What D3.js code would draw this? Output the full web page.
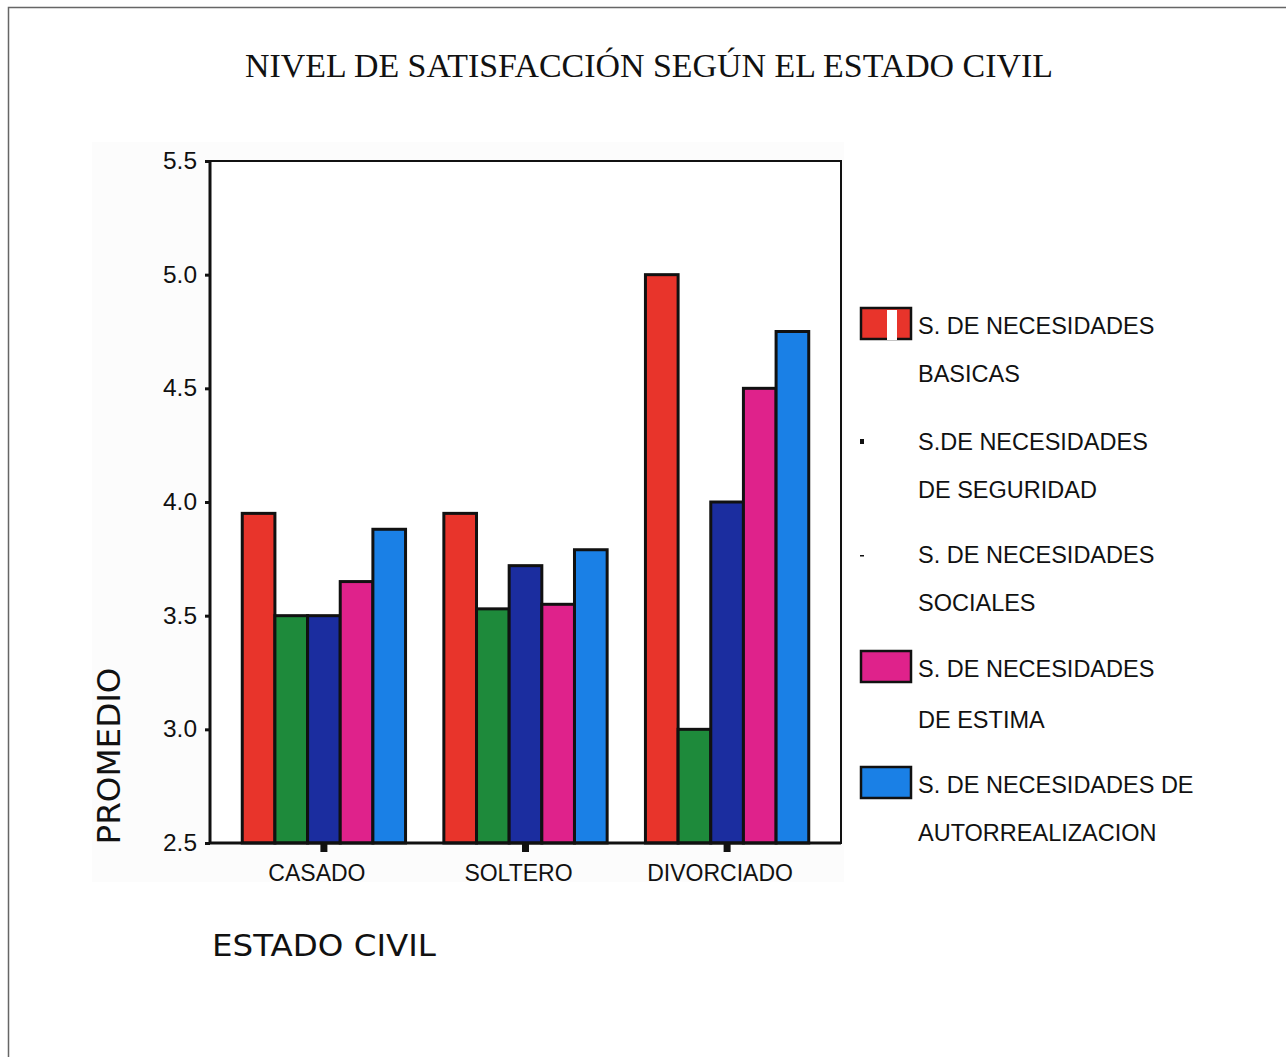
<!DOCTYPE html>
<html lang="es">
<head>
  <meta charset="UTF-8">
  <title>Nivel de satisfacción según el estado civil</title>
  <script src="https://d3js.org/d3.v7.min.js"></script>
  <style>
    body { margin: 0; background: #fff; }
    .axis path { display: none; }
    .axis text { font-family: "Liberation Sans", Arial, sans-serif; fill: #111; }
  </style>
</head>
<body>
  <div id="chart"></div>

  <script>
    // datos
    const categorias = ["CASADO", "SOLTERO", "DIVORCIADO"];
    const nBasicas   = [3.95, 3.95, 5.00];
    const nSeguridad = [3.50, 3.53, 3.00];
    const nSociales  = [3.50, 3.72, 4.00];
    const nEstima    = [3.65, 3.55, 4.50];
    const nAutorreal = [3.88, 3.79, 4.75];
    const yTicks = [2.5, 3.0, 3.5, 4.0, 4.5, 5.0, 5.5];
    const leyenda = [
      ["S. DE NECESIDADES", "BASICAS"],
      ["S.DE NECESIDADES", "DE SEGURIDAD"],
      ["S. DE NECESIDADES", "SOCIALES"],
      ["S. DE NECESIDADES", "DE ESTIMA"],
      ["S. DE NECESIDADES DE", "AUTORREALIZACION"]
    ];

    const series = [nBasicas, nSeguridad, nSociales, nEstima, nAutorreal];
    const colores = ["#e8342b", "#1e8a3b", "#1b2d9f", "#df228b", "#1a80e6"];

    const W = 1286, H = 1057;
    const plot = {left: 210, right: 841, top: 161, bottom: 843};

    const svg = d3.select("#chart").append("svg")
      .attr("width", W).attr("height", H);

    // borde de la hoja escaneada
    svg.append("path")
      .attr("d", `M8.5,${H} V7.5 H${W}`)
      .attr("fill", "none").attr("stroke", "#666").attr("stroke-width", 1.5);

    // fondo apenas gris del recorte
    svg.append("rect").attr("x", 92).attr("y", 142).attr("width", 752).attr("height", 740)
      .attr("fill", "#fcfcfc");
    svg.append("rect").attr("x", plot.left).attr("y", plot.top)
      .attr("width", plot.right - plot.left).attr("height", plot.bottom - plot.top)
      .attr("fill", "#fff");

    svg.append("text")
      .attr("x", 649).attr("y", 77)
      .attr("text-anchor", "middle")
      .attr("font-family", "'Liberation Serif', 'Times New Roman', serif")
      .attr("font-size", 33)
      .attr("textLength", 808).attr("lengthAdjust", "spacingAndGlyphs")
      .attr("fill", "#111")
      .text("NIVEL DE SATISFACCIÓN SEGÚN EL ESTADO CIVIL");

    const y = d3.scaleLinear().domain([2.5, 5.5]).range([plot.bottom, plot.top]);
    const x0 = d3.scaleBand().domain(categorias).range([plot.left, plot.right])
      .paddingInner(0.19).paddingOuter(0.16);
    const x1 = d3.scaleBand().domain(d3.range(series.length)).range([0, x0.bandwidth()]);

    const datos = categorias.map((c, i) => ({cat: c, vals: series.map((s, j) => ({k: j, v: s[i]}))}));

    svg.append("g").selectAll("g")
      .data(datos)
      .enter().append("g")
      .attr("transform", d => `translate(${x0(d.cat)},0)`)
      .selectAll("rect")
      .data(d => d.vals)
      .enter().append("rect")
      .attr("x", d => x1(d.k))
      .attr("y", d => y(d.v))
      .attr("width", x1.bandwidth())
      .attr("height", d => y(2.5) - y(d.v))
      .attr("fill", d => colores[d.k])
      .attr("stroke", "#111").attr("stroke-width", 3);

    // marco del gráfico
    svg.append("rect").attr("x", plot.left).attr("y", plot.top)
      .attr("width", plot.right - plot.left).attr("height", plot.bottom - plot.top)
      .attr("fill", "none").attr("stroke", "#111").attr("stroke-width", 2);
    svg.append("path")
      .attr("d", `M${plot.left},${plot.top} V${plot.bottom} H${plot.right}`)
      .attr("fill", "none").attr("stroke", "#111").attr("stroke-width", 3);

    const yAxis = svg.append("g").attr("class", "axis")
      .attr("transform", `translate(${plot.left},0)`)
      .call(d3.axisLeft(y).tickValues(yTicks).tickFormat(d3.format(".1f")).tickSize(5).tickPadding(8));
    yAxis.selectAll("line").attr("stroke", "#111").attr("stroke-width", 3);
    yAxis.selectAll("text").attr("font-size", 23)
      .attr("textLength", 34).attr("lengthAdjust", "spacingAndGlyphs");

    const xAxis = svg.append("g").attr("class", "axis")
      .attr("transform", `translate(0,${plot.bottom})`)
      .call(d3.axisBottom(x0).tickSize(9).tickPadding(9));
    xAxis.selectAll(".tick").attr("transform", d => `translate(${x0(d) + x0.bandwidth() / 2},0)`);
    xAxis.selectAll("line").attr("stroke", "#111").attr("stroke-width", 7);
    xAxis.selectAll("text").attr("font-size", 23).attr("dy", "0.85em").attr("dx", -7);

    svg.append("text")
      .attr("transform", "translate(120,756) rotate(-90)")
      .attr("text-anchor", "middle")
      .attr("font-family", "'DejaVu Sans', Verdana, sans-serif")
      .attr("font-size", 32)
      .attr("textLength", 177).attr("lengthAdjust", "spacingAndGlyphs")
      .attr("fill", "#111")
      .text("PROMEDIO");

    svg.append("text")
      .attr("x", 212).attr("y", 956)
      .attr("font-family", "'DejaVu Sans', Verdana, sans-serif")
      .attr("font-size", 31)
      .attr("textLength", 224).attr("lengthAdjust", "spacingAndGlyphs")
      .attr("fill", "#111")
      .text("ESTADO CIVIL");

    // leyenda
    const legY = [334, 450, 563, 677, 793];
    const leg = svg.append("g").selectAll("g")
      .data(leyenda)
      .enter().append("g")
      .attr("transform", (d, i) => `translate(0,${legY[i]})`);

    leg.each(function(d, i) {
      const g = d3.select(this);
      if (i === 1) {
        g.append("rect").attr("x", 860).attr("y", -11).attr("width", 4).attr("height", 5).attr("fill", "#111");
      } else if (i === 2) {
        g.append("rect").attr("x", 860).attr("y", -8).attr("width", 4).attr("height", 1.5).attr("fill", "#111");
      } else {
        g.append("rect").attr("x", 861).attr("y", -26).attr("width", 50).attr("height", 31)
          .attr("fill", colores[i]).attr("stroke", "#111").attr("stroke-width", 2.5);
        if (i === 0) {
          g.append("rect").attr("x", 887).attr("y", -24).attr("width", 10).attr("height", 30).attr("fill", "#fff");
        }
      }
      g.selectAll("text")
        .data(d)
        .enter().append("text")
        .attr("x", 918)
        .attr("y", (t, k) => k * 48 + (i === 3 ? k * 3 : 0))
        .attr("font-family", "'Liberation Sans', Arial, sans-serif")
        .attr("font-size", 23.5)
        .attr("fill", "#111")
        .text(t => t);
    });
  </script>
</body>
</html>
